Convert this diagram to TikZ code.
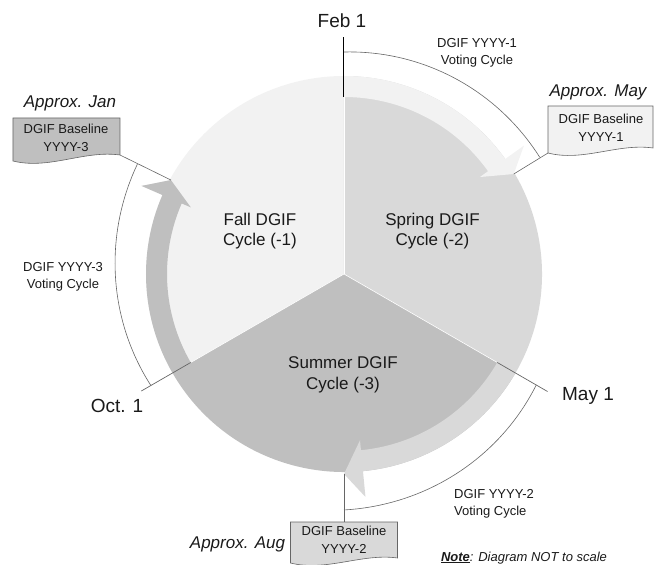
\documentclass[tikz,border=0pt]{standalone}
\usepackage{fontspec}
\setmainfont{Liberation Sans}
\definecolor{fallgray}{HTML}{F2F2F2}
\definecolor{springgray}{HTML}{D9D9D9}
\definecolor{summergray}{HTML}{BFBFBF}
\definecolor{linegray}{HTML}{666666}
\definecolor{textgray}{HTML}{1A1A1A}
\tikzset{
  datelbl/.style={anchor=base, font=\fontsize{19}{23}\selectfont, text=textgray},
  sectorlbl/.style={align=center, font=\fontsize{17}{20.5}\selectfont, text=textgray},
  votelbl/.style={align=center, font=\fontsize{13}{17}\selectfont, text=textgray},
  approxlbl/.style={anchor=base, font=\fontsize{17}{20}\selectfont\itshape, text=textgray},
  boxlbl/.style={align=center, font=\fontsize{13}{18}\selectfont, text=textgray},
  tickline/.style={draw=linegray, line width=0.7pt},
  bracketline/.style={draw=linegray, line width=0.6pt},
  docbox/.style={draw=linegray, line width=0.6pt}
}
\begin{document}
\begin{tikzpicture}[x=1pt,y=1pt]
  \useasboundingbox (-344,-291) rectangle (310,274);
  \coordinate (c) at (0,0);
  % sectors
  \fill[fallgray] (c) -- (90:198) arc[start angle=90, end angle=210, radius=198] -- cycle;
  \fill[springgray] (c) -- (-30:198) arc[start angle=-30, end angle=90, radius=198] -- cycle;
  \fill[summergray] (c) -- (210:198) arc[start angle=210, end angle=330, radius=198] -- cycle;
  % cycle arrows
  \fill[fallgray] (90:177) arc[start angle=90, end angle=35.5, radius=177]
    -- (35.5:167) -- (30.5:197) -- (35.5:221) -- (35.5:198)
    arc[start angle=35.5, end angle=90, radius=198] -- cycle;
  \fill[springgray] (-30:177) arc[start angle=-30, end angle=-84.5, radius=177]
    -- (-84.5:167) -- (-90:200) -- (-84.5:224) -- (-84.5:198)
    arc[start angle=-84.5, end angle=-30, radius=198] -- cycle;
  \fill[summergray] (210:177) arc[start angle=210, end angle=156.5, radius=177]
    -- (156.5:167) -- (151.5:197) -- (156.5:221) -- (156.5:198)
    arc[start angle=156.5, end angle=210, radius=198] -- cycle;
  \begin{scope}[white, line width=0.6pt]
    \draw (c) -- (90:177);
    \draw (c) -- (-30:177);
    \draw (c) -- (210:177);
  \end{scope}
  % date ticks
  \coordinate (febin) at (90:177);
  \coordinate (febout) at (90:237);
  \coordinate (mayin) at (-30:177);
  \coordinate (mayout) at (-30:235);
  \coordinate (octin) at (210:177);
  \coordinate (octout) at (210:234);
  \draw[black, line width=1pt] (febin) -- (febout);
  \draw[tickline] (mayin) -- (mayout);
  \draw[tickline] (octin) -- (octout);
  % voting brackets
  \draw[bracketline] plot[domain=90:30.8, samples=40] (\x:{222+(90-\x)*0.1});
  \draw[bracketline] plot[domain=-30:-90, samples=40] (\x:{222+(-30-\x)*0.233});
  \draw[bracketline] plot[domain=210:152, samples=40] (\x:{223+(210-\x)*0.19});
  % baseline boxes
  \filldraw[docbox, fill=fallgray] (204,168) -- (309,168) -- (309,126)
    .. controls (274,131) and (239,112) .. (204,121) -- cycle;
  \filldraw[docbox, fill=summergray] (-331,156) -- (-224,156) -- (-224,119)
    .. controls (-260,124) and (-295,104) .. (-331,113) -- cycle;
  \filldraw[docbox, fill=springgray] (-53.5,-248) -- (53.5,-248) -- (53.5,-284)
    .. controls (18,-279) and (-18,-298) .. (-53.5,-289) -- cycle;
  \coordinate (maycorner) at (204,121);
  \coordinate (jancorner) at (-224,119);
  \coordinate (augcorner) at (0,-248);
  \coordinate (maytip) at (30.5:197);
  \coordinate (jantip) at (151.5:197);
  \coordinate (augtip) at (-90:200);
  \draw[bracketline] (maytip) -- (maycorner);
  \draw[bracketline] (jantip) -- (jancorner);
  \draw[bracketline] (augtip) -- (augcorner);
  % labels
  \node[datelbl] (feb) at (-2,246) {Feb 1};
  \node[datelbl] (may) at (244,-126) {May 1};
  \node[datelbl] (oct) at (-227,-139) {Oct. 1};
  \node[sectorlbl] (fall) at (-84,43) {Fall DGIF\\Cycle (-1)};
  \node[sectorlbl] (spring) at (88.5,43) {Spring DGIF\\Cycle (-2)};
  \node[sectorlbl] (summer) at (-1,-101) {Summer DGIF\\Cycle (-3)};
  \node[votelbl] (vote1) at (133,221) {DGIF YYYY-1\\Voting Cycle};
  \node[votelbl, align=left] (vote2) at (150,-230) {DGIF YYYY-2\\Voting Cycle};
  \node[votelbl] (vote3) at (-281,-3) {DGIF YYYY-3\\Voting Cycle};
  \node[approxlbl] (approxmay) at (254,177) {Approx. May};
  \node[approxlbl] (approxjan) at (-274,166) {Approx. Jan};
  \node[approxlbl] (approxaug) at (-106.5,-274) {Approx. Aug};
  \node[boxlbl] (maybox) at (257,146) {DGIF Baseline\\YYYY-1};
  \node[boxlbl] (janbox) at (-278,136.5) {DGIF Baseline\\YYYY-3};
  \node[boxlbl] (augbox) at (0,-266) {DGIF Baseline\\YYYY-2};
  \node[anchor=base, font=\fontsize{13}{16}\selectfont\itshape, text=textgray] (note)
    at (180,-287) {\textbf{\underline{Note}}: Diagram NOT to scale};
\end{tikzpicture}
\end{document}
